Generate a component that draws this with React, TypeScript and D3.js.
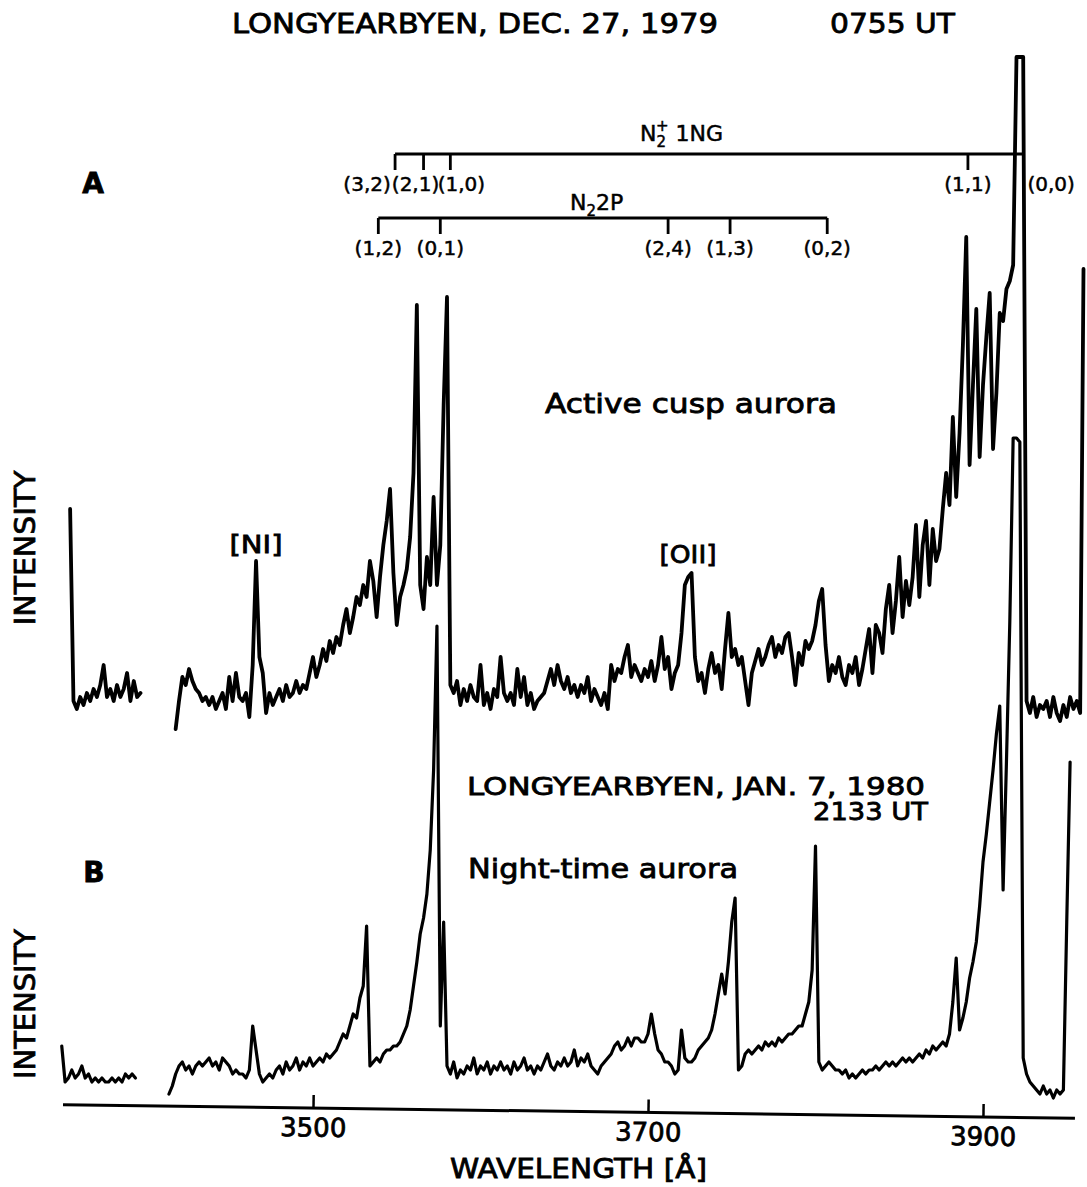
import React, { useEffect, useRef } from 'react';
import * as d3 from 'd3';

const STEP = 2;

// A - active cusp aurora, Dec. 27 1979 (two pieces, gap between)
const A1_START = 3355;
const A1_VALUES = [49, 1, -1, 2, 0, 3, 1, 4, 2, 5, 10, 2, 4, 1, 5, 2, 4, 8, 1, 6, 2, 3];
const A2_START = 3418;
const A2_VALUES = [
  -6, 1, 7, 5, 9, 6, 4, 3, 1, 2,
  0, 2, -1, 1, 3, -1, 7, 1, 8, 2,
  1, 3, -3, 10, 36, 12, 8, -2, 3, 0,
  2, 4, 1, 5, 2, 3, 6, 3, 5, 4,
  8, 12, 7, 10, 14, 11, 16, 13, 17, 15,
  20, 24, 18, 22, 27, 25, 30, 27, 36, 31,
  22, 32, 40, 46, 54, 33, 20, 27, 30, 34,
  42, 58, 100, 30, 24, 37, 30, 52, 30, 40,
  75, 102, 5, 3, 6, 0, 4, 1, 5, 2,
  1, 10, 0, 3, -1, 4, 2, 12, 3, 1,
  3, 0, 9, 2, 7, 0, 3, -1, 1, 2,
  3, 6, 9, 5, 10, 6, 4, 7, 3, 5,
  2, 5, 3, 7, 1, 4, 2, 0, 3, -1,
  10, 6, 9, 8, 12, 15, 7, 10, 8, 6,
  9, 7, 11, 6, 10, 17, 9, 12, 4, 8,
  10, 18, 30, 32, 33, 12, 6, 8, 3, 9,
  13, 8, 10, 4, 14, 23, 12, 14, 10, 12,
  6, 0, 8, 11, 14, 10, 12, 15, 17, 12,
  15, 13, 17, 18, 12, 5, 13, 10, 16, 14,
  16, 20, 26, 29, 15, 6, 10, 8, 12, 7,
  5, 10, 8, 12, 5, 9, 14, 19, 8, 20,
  18, 13, 24, 30, 18, 26, 37, 22, 31, 25,
  32, 45, 27, 40, 46, 30, 44, 36, 39, 49,
  58, 50, 72, 52, 68, 90, 117, 60, 80, 99,
  62, 80, 92, 103, 64, 78, 98, 96, 104, 106,
  110, 162, 162, 162, 1, -2, 2, -3, 0, -1,
  1, -3, 2, -2, -4, 0, -3, 2, -1, 1,
  -2, 109
];

// B - night-time aurora, Jan. 7 1980
const B1_START = 3350;
const B1_VALUES = [9, 0, 1, 3, 1, 2, 4, 1, 2, 0, 1, 0, 1, 0, 0, 1, 0, 1, 0, 2, 1, 2, 1];
const B2_START = 3414;
const B2_VALUES = [
  -3, -1, 2, 4, 5, 3, 4, 2, 4, 5,
  4, 5, 6, 4, 5, 3, 6, 5, 4, 2,
  3, 2, 2, 1, 3, 14, 8, 2, 0, 1,
  2, 1, 3, 4, 2, 5, 3, 4, 6, 3,
  5, 4, 6, 4, 5, 6, 5, 7, 6, 7,
  8, 10, 12, 11, 14, 17, 16, 21, 24, 39,
  4, 5, 6, 5, 7, 8, 8, 9, 9, 10,
  12, 14, 18, 24, 30, 37, 41, 47, 58, 78,
  114, 14, 40, 4, 2, 5, 1, 3, 2, 4,
  3, 6, 2, 4, 3, 5, 2, 4, 3, 5,
  3, 4, 2, 5, 3, 4, 6, 3, 4, 2,
  4, 3, 5, 7, 4, 3, 5, 4, 6, 4,
  5, 8, 4, 6, 5, 7, 4, 3, 2, 4,
  5, 6, 7, 9, 10, 8, 9, 11, 9, 11,
  11, 10, 10, 12, 17, 12, 8, 7, 5, 5,
  4, 2, 3, 13, 6, 5, 5, 6, 8, 9,
  10, 11, 13, 17, 22, 27, 22, 30, 40, 46,
  3, 4, 7, 8, 7, 8, 9, 8, 10, 9,
  10, 9, 11, 10, 11, 12, 12, 13, 14, 14,
  17, 20, 28, 59, 5, 3, 4, 5, 4, 3,
  3, 2, 3, 1, 2, 1, 2, 3, 2, 3,
  3, 4, 3, 4, 5, 4, 5, 4, 5, 6,
  5, 6, 5, 6, 7, 6, 8, 7, 9, 8,
  9, 10, 9, 12, 20, 31, 13, 16, 20, 26,
  30, 35, 44, 55, 62, 70, 78, 87, 94, 48,
  80, 115, 161, 161, 160, 6, 2, 0, -1, -2,
  -3, -1, -3, -2, -4, -2, -3, -2, 40, 80
];

const X_TICKS = [3500, 3700, 3900];

// band heads
const NG_LABELS = ['(3,2)', '(2,1)', '(1,0)', '(1,1)', '(0,0)'];
const NG_WL = [3549, 3566, 3582, 3891, 3924];
const NG_LABEL_DX = [-28, -8, 11, 0, 28];
const SP_LABELS = ['(1,2)', '(0,1)', '(2,4)', '(1,3)', '(0,2)'];
const SP_WL = [3539, 3576, 3712, 3749, 3807];

const FONT = "'DejaVu Sans', sans-serif";

export default function App() {
  const ref = useRef<SVGSVGElement>(null);

  useEffect(() => {
    const svg = d3.select(ref.current);
    svg.selectAll('*').remove();

    const x = d3.scaleLinear().domain([3500, 3900]).range([313, 983]);
    const yA = d3.scaleLinear().domain([0, 100]).range([705, 305]);
    const yB = d3.scaleLinear().domain([0, 100]).range([1082, 682]);

    const pts = (start: number, vals: number[]) =>
      vals.map((v, i) => [start + i * STEP, v] as [number, number]);

    const lineA = d3.line<[number, number]>().x(d => x(d[0])).y(d => yA(d[1]));
    const lineB = d3.line<[number, number]>().x(d => x(d[0])).y(d => yB(d[1]));

    const traces = svg.append('g')
      .attr('fill', 'none')
      .attr('stroke', '#000')
      .attr('stroke-linejoin', 'round')
      .attr('stroke-linecap', 'round');

    [pts(A1_START, A1_VALUES), pts(A2_START, A2_VALUES)].forEach(p =>
      traces.append('path').attr('d', lineA(p)).attr('stroke-width', 3.8));
    [pts(B1_START, B1_VALUES), pts(B2_START, B2_VALUES)].forEach(p =>
      traces.append('path').attr('d', lineB(p)).attr('stroke-width', 3.2));

    // x axis (the original scan is slightly tilted)
    const axis = d3.axisBottom(x).tickValues(X_TICKS).tickSize(-13).tickSizeOuter(0).tickPadding(10)
      .tickFormat(d3.format('d'));
    const gx = svg.append('g')
      .attr('transform', 'translate(0,1108) rotate(0.77,313,0)')
      .call(axis);
    gx.select('.domain').attr('d', 'M63,0H1075').attr('stroke-width', 3);
    gx.selectAll('.tick line').attr('stroke-width', 2.5);
    gx.selectAll('.tick text')
      .attr('font-family', FONT)
      .attr('font-size', 26)
      .attr('fill', '#000')
      .attr('stroke', '#000')
      .attr('stroke-width', 0.8);

    const text = (s: string, tx: number, ty: number, size: number, len?: number, anchor = 'start') => {
      const t = svg.append('text')
        .attr('x', tx).attr('y', ty)
        .attr('font-family', FONT)
        .attr('font-size', size)
        .attr('text-anchor', anchor)
        .attr('fill', '#000')
        .attr('stroke', '#000')
        .attr('stroke-width', 0.8)
        .text(s);
      if (len) t.attr('textLength', len).attr('lengthAdjust', 'spacingAndGlyphs');
      return t;
    };

    text('WAVELENGTH [Å]', 450, 1178, 27, 257);

    text('LONGYEARBYEN, DEC. 27, 1979', 232, 33, 27, 486);
    text('0755 UT', 830, 33, 27, 125);

    text('A', 93, 193, 28, undefined, 'middle').attr('font-weight', 'bold');
    text('B', 94, 882, 28, undefined, 'middle').attr('font-weight', 'bold');

    // INTENSITY labels
    [[548, 155], [1004, 150]].forEach(([cy, len]) => {
      svg.append('text')
        .attr('transform', `translate(35,${cy}) rotate(-90)`)
        .attr('font-family', FONT)
        .attr('font-size', 29)
        .attr('text-anchor', 'middle')
        .attr('textLength', len)
        .attr('lengthAdjust', 'spacingAndGlyphs')
        .attr('fill', '#000')
        .attr('stroke', '#000')
        .attr('stroke-width', 0.8)
        .text('INTENSITY');
    });

    text('[NI]', 256, 553, 24, 53, 'middle');
    text('[OII]', 688, 563, 24, 57, 'middle');
    text('Active cusp aurora', 545, 413, 26, 292);
    text('LONGYEARBYEN, JAN. 7, 1980', 467, 795, 25, 458);
    text('2133 UT', 813, 820, 25, 115);
    text('Night-time aurora', 468, 878, 26, 270);

    // band systems
    const bands = svg.append('g').attr('stroke', '#000').attr('stroke-width', 2.8).attr('fill', 'none');
    bands.append('line')
      .attr('x1', x(NG_WL[0])).attr('x2', x(NG_WL[NG_WL.length - 1]))
      .attr('y1', 154).attr('y2', 154);
    NG_WL.slice(0, 4).forEach(w => {
      bands.append('line').attr('x1', x(w)).attr('x2', x(w)).attr('y1', 154).attr('y2', 170);
    });
    NG_LABELS.forEach((l, i) =>
      text(l, x(NG_WL[i]) + NG_LABEL_DX[i], 191, 20, undefined, 'middle').attr('stroke-width', 0.5));

    bands.append('line')
      .attr('x1', x(SP_WL[0])).attr('x2', x(SP_WL[SP_WL.length - 1]))
      .attr('y1', 218).attr('y2', 218);
    SP_WL.forEach(w => {
      bands.append('line').attr('x1', x(w)).attr('x2', x(w)).attr('y1', 218).attr('y2', 234);
    });
    SP_LABELS.forEach((l, i) =>
      text(l, x(SP_WL[i]), 255, 20, undefined, 'middle').attr('stroke-width', 0.5));

    // N2+ 1NG
    const ng = text('N', 640, 141, 22).attr('stroke-width', 0.5);
    ng.append('tspan').attr('font-size', 15).attr('dy', 6).text('2');
    ng.append('tspan').attr('font-size', 15).attr('dx', -10).attr('dy', -16).text('+');
    ng.append('tspan').attr('dy', 10).text(' 1NG');

    // N2 2P
    const sp = text('N', 570, 210, 22).attr('stroke-width', 0.5);
    sp.append('tspan').attr('font-size', 15).attr('dy', 6).text('2');
    sp.append('tspan').attr('dy', -6).text('2P');
  }, []);

  return (
    <svg
      ref={ref}
      width={1087}
      height={1187}
      style={{ position: 'absolute', left: 0, top: 0, background: '#fff' }}
    />
  );
}
